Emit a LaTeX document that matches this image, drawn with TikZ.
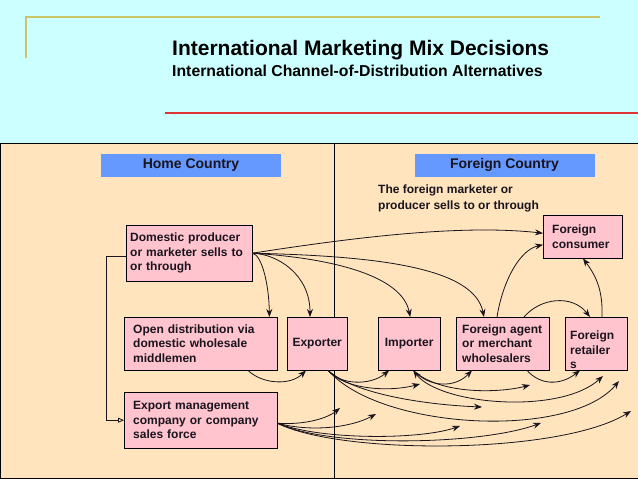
\documentclass[tikz,border=0pt]{standalone}
\usepackage{fontspec}
\setmainfont{Liberation Sans}
\usetikzlibrary{arrows.meta}
\definecolor{bgcyan}{RGB}{204,255,255}
\definecolor{panel}{RGB}{255,228,189}
\definecolor{boxpink}{RGB}{255,196,206}
\definecolor{labelblue}{RGB}{102,153,255}
\definecolor{redline}{RGB}{221,51,51}
\definecolor{goldline}{RGB}{204,196,102}
\definecolor{inkdark}{RGB}{25,20,30}
\tikzset{
    box/.style={
        draw,
        fill=boxpink,
        anchor=north west,
        align=left,
        inner xsep=6pt,
        inner ysep=0pt,
        text=inkdark,
        font=\fontsize{12}{14.5}\selectfont\bfseries,
    },
    boxtext/.style={
        anchor=north west,
        align=left,
        inner sep=0pt,
        text=inkdark,
        font=\fontsize{12}{14.5}\selectfont\bfseries,
    },
    countrylabel/.style={
        fill=labelblue,
        minimum width=180,
        minimum height=23,
        inner sep=0pt,
        text=inkdark,
        font=\fontsize{14}{16}\selectfont\bfseries,
    },
    flow/.style={
        draw=inkdark,
        line width=0.8pt,
        -{Stealth[length=8pt,width=6pt]},
    },
}

\begin{document}
\begin{tikzpicture}[x=1pt,y=-1pt]
            \useasboundingbox[fill=bgcyan] (0,0) rectangle (638,479);

            \draw[goldline, line width=1.5pt] (26,58) -- (26,17) -- (600,17);
            \node[anchor=base west, inner sep=0pt, font=\fontsize{21}{25}\selectfont\bfseries] at (172, 55) (title) {International Marketing Mix Decisions};
            \node[anchor=base west, inner sep=0pt, font=\fontsize{15.8}{19}\selectfont\bfseries] at (172, 76) (subtitle) {International Channel-of-Distribution Alternatives};
            \draw[redline, line width=2pt] (165,113) -- (638,113);

            \draw[fill=panel, line width=0.8pt] (0.5,143) rectangle (639,478);
            \draw[line width=0.8pt] (334.5,143) -- (334.5,478);

            \node[countrylabel] at (191, 165.5) (home)    {Home Country};
            \node[countrylabel] at (504.5, 165) (foreign) {Foreign Country};
            \node[boxtext, font=\fontsize{12}{16}\selectfont\bfseries] at (378, 185) (note) {The foreign marketer or\\producer sells to or through};

            \node[box, minimum width=126, minimum height=56, text width=118, inner xsep=4pt] at (126, 225) (dom) {Domestic producer\\or marketer sells to\\or through};
            \node[box, minimum width=153, minimum height=53, text width=135] at (124, 317) (opendist)  {Open distribution via\\domestic wholesale\\middlemen};
            \node[box, minimum width=60,  minimum height=53, inner xsep=3pt] at (287, 317) (exporter)  {Exporter};
            \node[box, minimum width=62,  minimum height=53, inner xsep=3pt] at (378, 317) (importer)  {Importer};
            \node[box, minimum width=93,  minimum height=53, text width=81]  at (456, 317) (agent)     {Foreign agent\\or merchant\\wholesalers};
            \node[box, minimum width=62,  minimum height=53]                 at (565, 317) (retailer)  {};
            \node[boxtext]                                                    at (570, 331) (retailertext) {Foreign\\retailer\\s};
            \node[box, minimum width=79,  minimum height=43, text width=61]  at (543, 215) (consumer)  {Foreign\\consumer};
            \node[box, minimum width=153, minimum height=56, text width=135] at (124, 392) (emc)       {Export management\\company or company\\sales force};

            \coordinate (freeb) at (420, 384);
            \coordinate (freee) at (530, 385);
            \coordinate (freef) at (482, 407);
            \coordinate (freeh) at (603, 376);
            \coordinate (freei) at (619, 381);
            \coordinate (freej) at (340, 408);
            \coordinate (freek) at (376, 414);
            \coordinate (freel) at (460, 426);
            \coordinate (freem) at (541, 423);
            \coordinate (freen) at (631, 411);

            \draw[inkdark, line width=0.8pt, -{Triangle[open, length=6pt, width=5pt]}]
                ([yshift=-3pt]dom.west) -- ++(-20,0) |- (emc.west);

            \draw[flow] (dom.east) .. controls (262,255) and (269,285) .. ([xshift=-8pt]opendist.north east);
            \draw[flow] (dom.east) .. controls (278,254) and (310,275) .. ([xshift=23pt]exporter.north west);
            \draw[flow] (dom.east) .. controls (330,258) and (402,275) .. ([xshift=1pt]importer.north);
            \draw[flow] (dom.east) .. controls (380,256) and (474,268) .. ([xshift=28pt]agent.north west);
            \draw[flow] (dom.east) .. controls (350,238) and (460,224) .. ([yshift=3.5pt]consumer.west);

            \draw[flow] ([xshift=41pt]agent.north west) .. controls (503,280) and (520,250) .. ([yshift=-8pt]consumer.west);
            \draw[flow] ([xshift=68pt]agent.north west) .. controls (540,298) and (572,294) .. ([xshift=25pt]retailer.north west);
            \draw[flow] ([xshift=37pt]retailer.north west) .. controls (603,290) and (596,276) .. ([xshift=40pt]consumer.south west);

            \draw[flow] ([xshift=124pt]opendist.south west) .. controls (262,384) and (290,386) .. ([xshift=19pt]exporter.south west);

            \draw[flow] ([xshift=11pt]exporter.south) .. controls (340,385) and (370,386) .. ([xshift=-20pt]importer.south);
            \draw[flow] ([xshift=11pt]exporter.south) .. controls (345,390) and (390,392) .. (freeb);
            \draw[flow] ([xshift=11pt]exporter.south) .. controls (355,395) and (430,405) .. (freef);
            \draw[flow] ([xshift=11pt]exporter.south) .. controls (380,430) and (570,440) .. (freei);

            \draw[flow] ([xshift=4pt]importer.south) .. controls (430,388) and (455,388) .. ([xshift=16pt]agent.south west);
            \draw[flow] ([xshift=4pt]importer.south) .. controls (440,395) and (500,393) .. (freee);
            \draw[flow, {Stealth[length=8pt,width=6pt]}-{Stealth[length=8pt,width=6pt]}]
                ([xshift=4pt]importer.south) .. controls (440,405) and (560,415) .. (freeh);

            \draw[flow] ([xshift=71pt]agent.south west) .. controls (540,385) and (560,386) .. ([xshift=15pt]retailer.south west);

            \draw[flow] ([yshift=-3pt]emc.east) .. controls (300,425) and (325,420) .. (freej);
            \draw[flow] ([yshift=-3pt]emc.east) .. controls (310,432) and (350,428) .. (freek);
            \draw[flow] ([yshift=-3pt]emc.east) .. controls (320,440) and (420,440) .. (freel);
            \draw[flow] ([yshift=-3pt]emc.east) .. controls (330,448) and (480,445) .. (freem);
            \draw[flow] ([yshift=-3pt]emc.east) .. controls (340,455) and (560,455) .. (freen);
        \end{tikzpicture}
\end{document}
